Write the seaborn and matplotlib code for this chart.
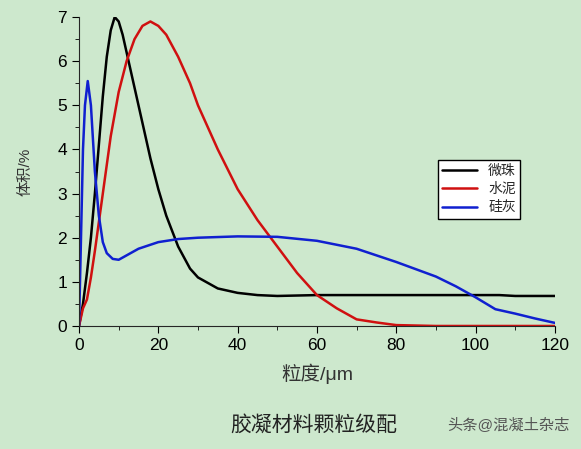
import numpy as np
import pandas as pd
import matplotlib
matplotlib.use('Agg')
import matplotlib.pyplot as plt
import seaborn as sns
from matplotlib.ticker import MultipleLocator

# particle size distributions
x_black = [0, 1, 2, 3, 4, 5, 6, 7, 8, 9, 10, 11, 12, 14, 16, 18, 20, 22, 25, 28, 30, 35, 40, 45, 50, 60, 80, 100, 106, 110, 120]
y_black = [0, 0.5, 1.2, 2.0, 3.0, 4.1, 5.2, 6.1, 6.7, 7.0, 6.9, 6.6, 6.2, 5.4, 4.6, 3.8, 3.1, 2.5, 1.8, 1.3, 1.1, 0.85, 0.75, 0.7, 0.68, 0.7, 0.7, 0.7, 0.7, 0.68, 0.68]
x_red = [0, 1, 2, 3, 4, 6, 8, 10, 12, 14, 16, 18, 20, 22, 25, 28, 30, 35, 40, 45, 50, 55, 60, 65, 70, 75, 80, 90, 120]
y_red = [0, 0.4, 0.6, 1.1, 1.7, 3.0, 4.3, 5.3, 6.0, 6.5, 6.8, 6.9, 6.8, 6.6, 6.1, 5.5, 5.0, 4.0, 3.1, 2.4, 1.8, 1.2, 0.7, 0.4, 0.15, 0.08, 0.02, 0, 0]
x_blue = [0, 0.5, 1, 1.5, 2.2, 3, 4, 5, 6, 7, 8.5, 10, 12, 15, 20, 25, 30, 40, 50, 60, 70, 80, 90, 95, 100, 105, 110, 115, 120]
y_blue = [0, 2.0, 4.0, 5.0, 5.55, 5.0, 3.5, 2.5, 1.9, 1.65, 1.52, 1.5, 1.6, 1.75, 1.9, 1.97, 2.0, 2.03, 2.02, 1.93, 1.75, 1.45, 1.12, 0.9, 0.65, 0.38, 0.28, 0.17, 0.07]
names = ['微珠', '水泥', '硅灰']

bg = '#cde8cd'
sns.set_style('ticks')
plt.rcParams['font.family'] = ['Liberation Sans', 'Noto Sans CJK SC', 'DejaVu Sans']

fig = plt.figure(figsize=(5.81, 4.49), dpi=100, facecolor=bg)
ax = fig.add_axes([0.136, 0.274, 0.819, 0.688], facecolor=bg)

sns.lineplot(x=x_black, y=y_black, ax=ax, color='black', lw=1.8, label=names[0])
sns.lineplot(x=x_red, y=y_red, ax=ax, color='#d01010', lw=1.8, label=names[1])
sns.lineplot(x=x_blue, y=y_blue, ax=ax, color='#1020d0', lw=1.8, label=names[2])

ax.set_xlim(0, 120)
ax.set_ylim(0, 7)
ax.xaxis.set_major_locator(MultipleLocator(20))
ax.xaxis.set_minor_locator(MultipleLocator(10))
ax.yaxis.set_major_locator(MultipleLocator(1))
ax.yaxis.set_minor_locator(MultipleLocator(0.5))
ax.tick_params(which='both', direction='out', labelsize=12.5, colors='black')
ax.tick_params(which='major', length=5)
ax.tick_params(which='minor', length=3)
for s in ['top', 'right']:
    ax.spines[s].set_visible(False)

ax.set_xlabel('粒度/μm', fontsize=14, labelpad=8, color='#333333')
ax.set_ylabel('体积/%', fontsize=11, labelpad=18, color='#333333')

leg = ax.legend(loc='upper left', bbox_to_anchor=(0.74, 0.56), frameon=True, fancybox=False,
                edgecolor='black', facecolor='white', framealpha=1, fontsize=10,
                handlelength=2.5, borderpad=0.3, labelspacing=0.3)

fig.text(0.54, 0.04, '胶凝材料颗粒级配', fontsize=15, ha='center', color='#222222')
fig.text(0.875, 0.045, '头条@混凝土杂志', fontsize=11, ha='center', color='#555555')

fig.savefig('out.png', dpi=100, facecolor=bg)
